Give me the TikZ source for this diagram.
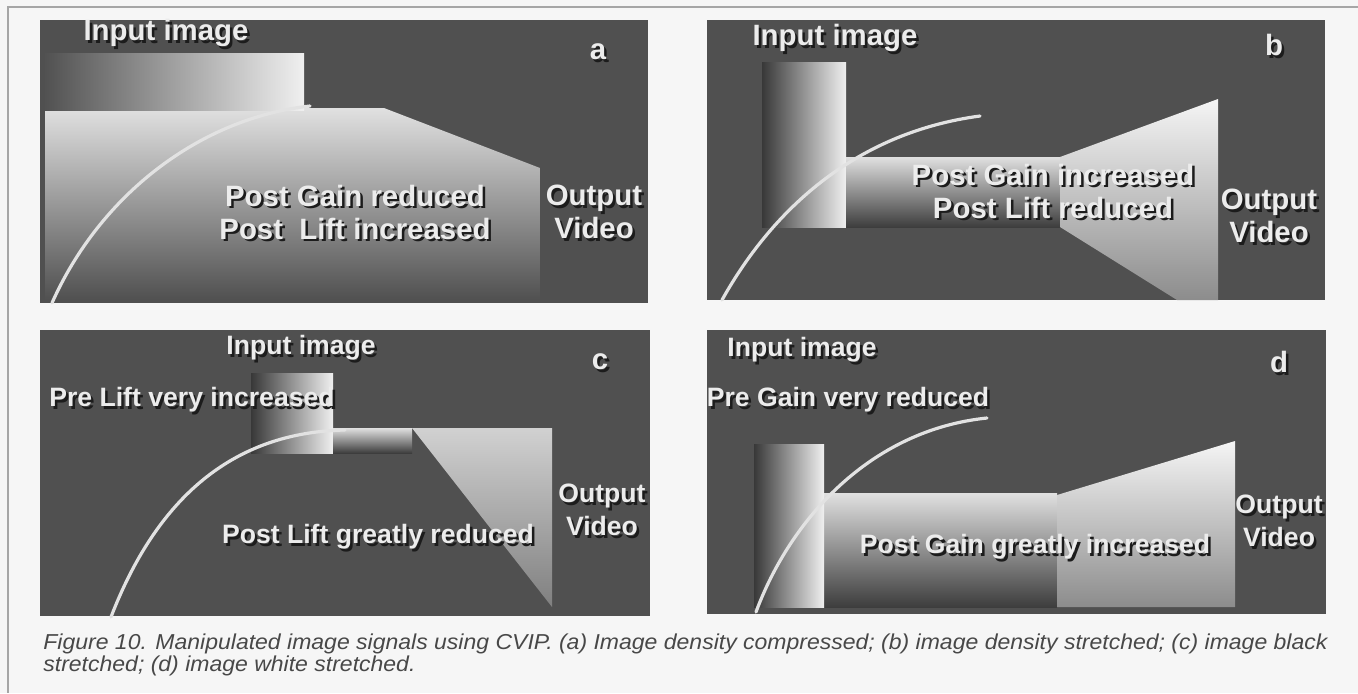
\documentclass[tikz,border=0pt]{standalone}
\usepackage{fontspec}
\setmainfont{Liberation Sans}
\usetikzlibrary{calc}

\definecolor{pagebg}{RGB}{246,246,246}
\definecolor{panelbg}{RGB}{80,80,80}
\definecolor{txtlight}{RGB}{236,236,236}
\definecolor{txtshadow}{RGB}{28,28,28}
\definecolor{curvecol}{RGB}{226,226,226}
\definecolor{capcol}{RGB}{72,72,72}

\tikzset{
  panel/.style={fill=panelbg},
  frameline/.style={draw=gray!70,line width=1pt},
  inshade/.style={left color=black!78,right color=white!94!black},
  bodyshade/.style={top color=white!88!black,bottom color=black!76},
  outshade/.style={top color=white!96!black,bottom color=black!45},
  transfer/.style={draw=curvecol,line width=1.6pt,line cap=round},
  paneltext/.style={text=txtlight,inner sep=0pt,align=center},
  lblbig/.style={font=\bfseries\fontsize{14.7}{16.5}\selectfont},
  lblsmall/.style={font=\bfseries\fontsize{13.3}{16.5}\selectfont},
  captext/.style={text=capcol,anchor=base west,inner sep=0pt,
    font=\itshape\fontsize{10.8}{13}\selectfont}
}

\newcommand\shadowtext[4][]{%
  \node[paneltext,#1,text=txtshadow] (#2-sh) at ($(#3)+(2.5,2.5)$) {#4};
  \node[paneltext,#1] (#2) at (#3) {#4};}

\begin{document}
\begin{tikzpicture}[x=0.5pt,y=-0.5pt]
\useasboundingbox (0,0) rectangle (1358,693);
\fill[pagebg] (0,0) rectangle (1358,693);
\draw[frameline] (1358,7) -- (8,7) -- (8,693);

% the four panels
\foreach \xa/\ya/\xb/\yb in {40/20/648/303, 707/20/1325/300, 40/330/650/616, 707/330/1326/614}
  \fill[panel] (\xa,\ya) rectangle (\xb,\yb);

% a: density compressed
\shade[bodyshade,bottom color=panelbg] (45,108) -- (384,108) -- (540,168) -- (540,300) -- (45,300) -- cycle;
\shade[inshade,left color=black!68] (45,53) rectangle (304,110);
\draw[transfer] (52,303) .. controls (100,195) and (200,118) .. (310,106);

% b: density stretched
\shade[inshade] (762,62) rectangle (846,227);
\shade[bodyshade] (846,157) rectangle (1060,227);
\shade[outshade] (1060,157) -- (1218,99) -- (1218,300) -- (1177,300) -- (1060,227) -- cycle;
\draw[transfer] (722,300) .. controls (775,205) and (860,132) .. (980,116);

% c: black stretched
\shade[inshade] (251,373) rectangle (333,453);
\shade[bodyshade] (333,428) rectangle (412,453);
\shade[outshade,top color=white!82!black,bottom color=black!50] (412,428) -- (552,428) -- (552,607) -- cycle;
\draw[transfer] (111,617) .. controls (160,490) and (240,432) .. (345,430);

% d: white stretched
\shade[bodyshade] (824,493) rectangle (1057,607);
\shade[inshade] (754,444) rectangle (824,607);
\shade[outshade] (1057,495) -- (1235,441) -- (1235,607) -- (1057,607) -- cycle;
\draw[transfer] (756,612) .. controls (790,520) and (870,430) .. (987,418);

% labels
\foreach \n/\px/\py in {a/598/52, b/1274/45, c/600/362, d/1279/362}
  {\shadowtext[lblbig]{lab-\n}{\px,\py}{\n}}

\shadowtext[lblbig]{in-a}{166,33}{Input image}
\shadowtext[lblbig]{post-a}{355,212}{Post Gain reduced\\Post\ \ Lift increased}
\shadowtext[lblbig]{out-a}{594,212}{Output\\Video}

\shadowtext[lblbig]{in-b}{835,38}{Input image}
\shadowtext[lblbig]{post-b}{1053,191}{Post Gain increased\\Post Lift reduced}
\shadowtext[lblbig]{out-b}{1269,216}{Output\\Video}

\shadowtext[lblsmall]{in-c}{301,348}{Input image}
\shadowtext[lblsmall]{pre-c}{192,400}{Pre Lift very increased}
\shadowtext[lblsmall]{post-c}{378,537}{Post Lift greatly reduced}
\shadowtext[lblsmall]{out-c}{602,510}{Output\\Video}

\shadowtext[lblsmall]{in-d}{802,350}{Input image}
\shadowtext[lblsmall]{pre-d}{848,400}{Pre Gain very reduced}
\shadowtext[lblsmall]{post-d}{1035,547}{Post Gain greatly increased}
\shadowtext[lblsmall]{out-d}{1279,521}{Output\\Video}

% caption
\node[captext] (cap-1) at (43,649) {\scalebox{1.065}[1]{Figure 10. Manipulated image signals using CVIP. (a) Image density compressed; (b) image density stretched; (c) image black}};
\node[captext] (cap-2) at (43,671) {\scalebox{1.065}[1]{stretched; (d) image white stretched.}};
\end{tikzpicture}
\end{document}
